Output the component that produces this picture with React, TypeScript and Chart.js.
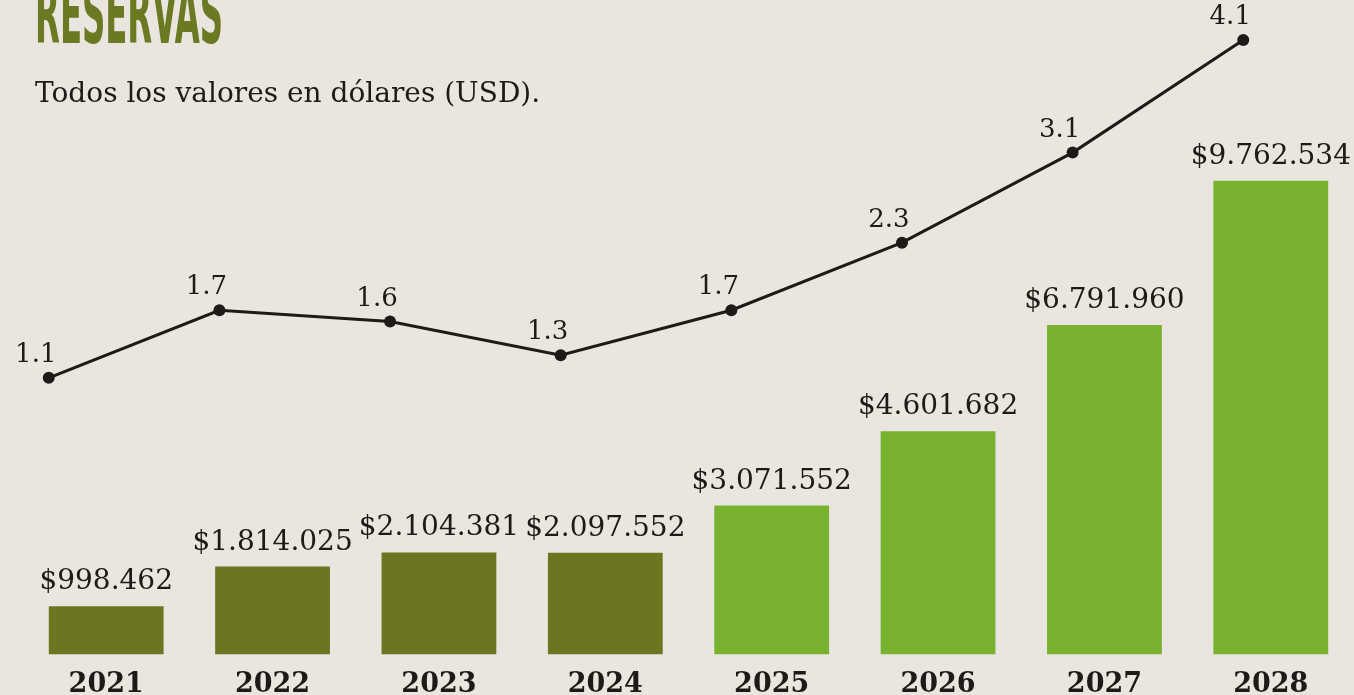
import React, { useEffect, useLayoutEffect, useRef } from "react";
import { Chart, registerables } from "chart.js";

Chart.register(...registerables);

// ---- Data ----
const years = ["2021", "2022", "2023", "2024", "2025", "2026", "2027", "2028"];
const reserves = [998462, 1814025, 2104381, 2097552, 3071552, 4601682, 6791960, 9762534];
const ratio = [1.1, 1.7, 1.6, 1.3, 1.7, 2.3, 3.1, 4.1];
const firstProjectedYear = "2025";

const titleText = "RESERVAS";
const subtitleText = "Todos los valores en dólares (USD).";

// ---- Styles ----
const INK = "#1d1a17";
const OLIVE = "#6e7520";
const GREEN = "#78b22f";
const TITLE_GREEN = "#6b7a22";
const PAPER = "#eae6df";
const W = 1354;
const H = 715;

const formatMoney = (n: number) =>
  "$" + String(n).replace(/\B(?=(\d{3})+(?!\d))/g, ".");

const labelPlugin = {
  id: "valueLabels",
  afterDatasetsDraw(chart: any) {
    const ctx = chart.ctx;
    ctx.save();
    ctx.fillStyle = INK;
    ctx.textAlign = "center";
    ctx.textBaseline = "alphabetic";

    const barMeta = chart.getDatasetMeta(1);
    ctx.font = "28px 'DejaVu Serif'";
    barMeta.data.forEach((el: any, i: number) => {
      ctx.fillText(formatMoney(reserves[i]), el.x, el.y - 17);
    });

    const lineMeta = chart.getDatasetMeta(0);
    ctx.font = "26px 'DejaVu Serif'";
    lineMeta.data.forEach((el: any, i: number) => {
      ctx.fillText(ratio[i].toFixed(1), el.x - 13, el.y - 16);
    });
    ctx.restore();
  },
};

export default function App() {
  const canvasRef = useRef<HTMLCanvasElement | null>(null);
  const titleRef = useRef<HTMLSpanElement | null>(null);

  useLayoutEffect(() => {
    const el = titleRef.current;
    if (el) {
      const w = el.offsetWidth;
      if (w > 0) el.style.transform = `scaleX(${188 / w})`;
    }
  }, []);

  useEffect(() => {
    if (!canvasRef.current) return;
    const chart = new Chart(canvasRef.current, {
      data: {
        labels: years,
        datasets: [
          {
            type: "line",
            label: "ratio",
            data: ratio.map((v, i) => ({ x: i, y: v })),
            xAxisID: "xLine",
            yAxisID: "yLine",
            borderColor: INK,
            backgroundColor: INK,
            borderWidth: 3,
            pointRadius: 6,
            pointHoverRadius: 6,
            pointBorderWidth: 0,
            tension: 0,
            order: 0,
          },
          {
            type: "bar",
            label: "reservas",
            data: reserves,
            xAxisID: "x",
            yAxisID: "y",
            backgroundColor: years.map((y) => (y >= firstProjectedYear ? GREEN : OLIVE)),
            borderWidth: 0,
            grouped: false,
            categoryPercentage: 1,
            barPercentage: 0.69,
            order: 1,
          },
        ],
      } as any,
      options: {
        responsive: false,
        animation: false,
        events: [],
        layout: { autoPadding: false, padding: { left: 23, right: 0, top: 0, bottom: 0 } },
        plugins: {
          legend: { display: false },
          tooltip: { enabled: false },
          title: { display: false },
        },
        scales: {
          x: {
            type: "category",
            offset: true,
            grid: { display: false, drawTicks: false },
            border: { display: false },
            ticks: {
              color: INK,
              font: { family: "'DejaVu Serif'", weight: "bold", size: 27 },
              padding: 14,
              maxRotation: 0,
              autoSkip: false,
            },
          },
          xLine: { type: "linear", display: false, min: -0.151, max: 7.649 },
          y: { type: "linear", display: false, min: 0, max: 13490000 },
          yLine: { type: "linear", display: false, min: -1.358, max: 4.455 },
        },
      } as any,
      plugins: [labelPlugin],
    });
    return () => chart.destroy();
  }, []);

  return (
    <div
      style={{
        position: "fixed",
        left: 0,
        top: 0,
        width: W,
        height: 695,
        overflow: "hidden",
        background: PAPER,
      }}
    >
      <canvas
        ref={canvasRef}
        width={W}
        height={H}
        style={{ position: "absolute", left: 0, top: 0, width: W, height: H }}
      />
      <div
        style={{
          position: "absolute",
          left: 35,
          top: -26,
          lineHeight: 1,
          whiteSpace: "nowrap",
        }}
      >
        <span
          ref={titleRef}
          style={{
            display: "inline-block",
            fontFamily: "'DejaVu Sans Condensed', 'DejaVu Sans', sans-serif",
            fontWeight: "bold",
            fontSize: 82,
            color: TITLE_GREEN,
            transformOrigin: "left top",
            letterSpacing: 0,
          }}
        >
          {titleText}
        </span>
      </div>
      <div
        style={{
          position: "absolute",
          left: 35,
          top: 79,
          lineHeight: 1,
          whiteSpace: "nowrap",
          fontFamily: "'DejaVu Serif', serif",
          fontSize: 28,
          color: INK,
        }}
      >
        {subtitleText}
      </div>
    </div>
  );
}
